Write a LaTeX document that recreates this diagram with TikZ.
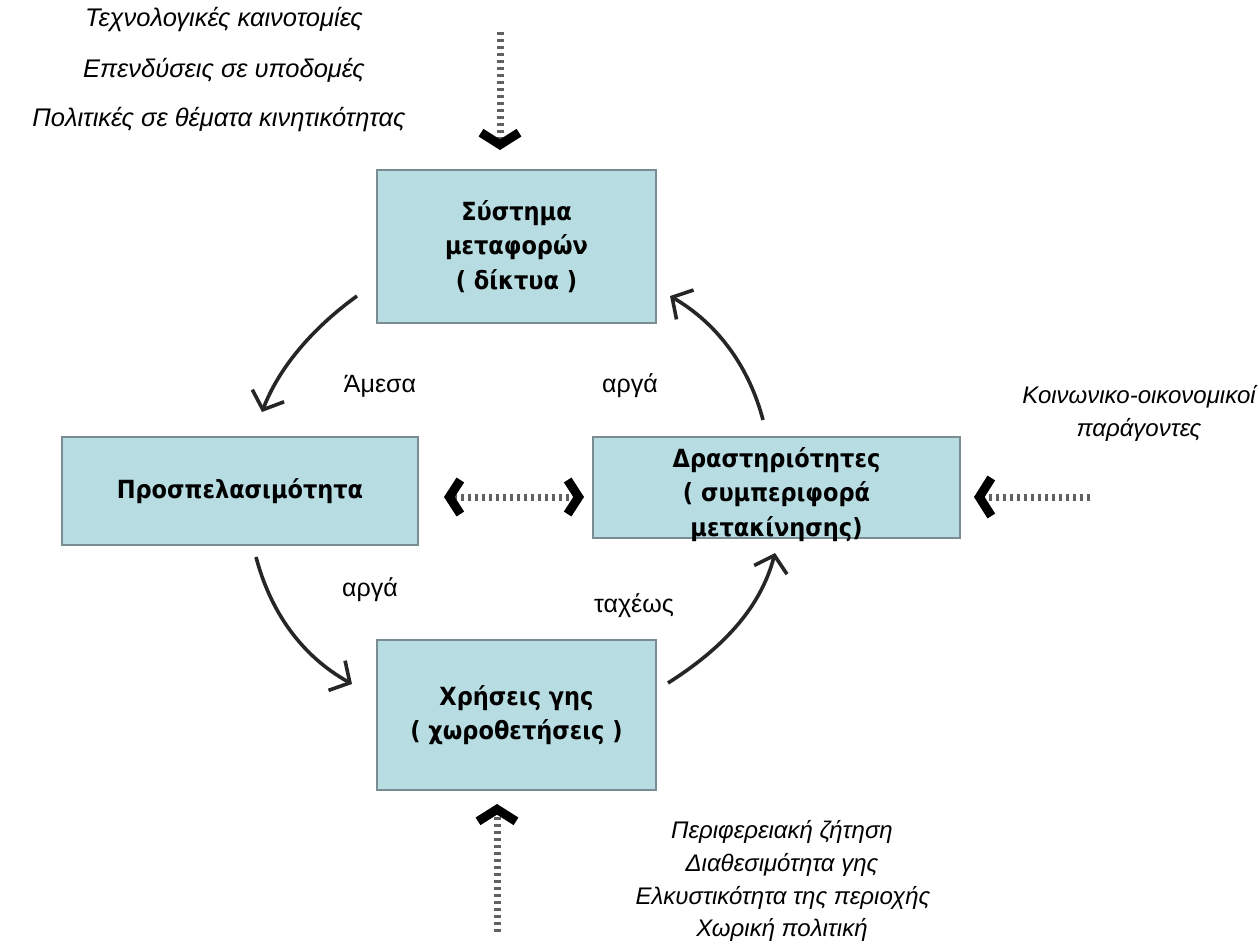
\documentclass[tikz,border=0pt]{standalone}
\usepackage{fontspec}
\setmainfont{Liberation Sans}
\newfontfamily\boxfont{DejaVu Sans Condensed}
\usetikzlibrary{arrows.meta}
\definecolor{boxfill}{RGB}{183,221,226}
\definecolor{boxedge}{RGB}{120,140,145}
\tikzset{
  stbox/.style={draw=boxedge, line width=1.2pt, fill=boxfill, align=center, inner sep=0pt, font=\boxfont\bfseries\fontsize{25}{34.5}\selectfont},
  boxtext/.style={align=center, inner sep=0pt, font=\boxfont\bfseries\fontsize{25}{34.5}\selectfont},
  lbl/.style={font=\fontsize{25}{28}\selectfont, inner sep=0pt},
  itl/.style={font=\itshape\fontsize{24}{33}\selectfont, inner sep=0pt, align=center},
  itt/.style={font=\itshape\fontsize{25.5}{30}\selectfont, inner sep=0pt, align=center},
  curv/.style={line width=3.6pt, black!85, -{Straight Barb[length=15pt,width=34pt,line width=3.6pt]}},
  dotarr/.style={line width=7pt, black!62, dash pattern=on 3pt off 4pt, -{Straight Barb[length=12pt,width=38pt,line width=9pt,color=black]}},
  dotdbl/.style={line width=7pt, black!62, dash pattern=on 3pt off 4pt, {Straight Barb[length=11pt,width=34pt,line width=9pt,color=black]}-{Straight Barb[length=11pt,width=34pt,line width=9pt,color=black]}}
}
\begin{document}
\begin{tikzpicture}[x=1pt,y=-1pt]
\useasboundingbox (0,0) rectangle (1259,943);
% boxes
\node[stbox, minimum width=279pt, minimum height=153pt] (sys) at (516.5,246.5) {Σύστημα\\μεταφορών\\( δίκτυα )};
\node[stbox, minimum width=356pt, minimum height=108pt] (acc) at (240,491) {Προσπελασιμότητα};
\node[stbox, minimum width=367pt, minimum height=101pt,
  label={[boxtext, yshift=-7pt]center:Δραστηριότητες\\( συμπεριφορά\\μετακίνησης)}] (act) at (776.5,487.5) {};
\node[stbox, minimum width=279pt, minimum height=150pt] (land) at (516.5,715) {Χρήσεις γης\\( χωροθετήσεις )};
% top-left text
\node[itt] (t1) at (224,20) {Τεχνολογικές καινοτομίες};
\node[itt] (t2) at (224,70) {Επενδύσεις σε υποδομές};
\node[itt] (t3) at (219,120) {Πολιτικές σε θέματα κινητικότητας};
% right text
\node[itl] (soc) at (1139,413) {Κοινωνικο-οικονομικοί\\παράγοντες};
% bottom-right text
\node[itl] (b1) at (782,832) {Περιφερειακή ζήτηση};
\node[itl] (b2) at (782,865) {Διαθεσιμότητα γης};
\node[itl] (b3) at (783,898) {Ελκυστικότητα της περιοχής};
\node[itl] (b4) at (782,930) {Χωρική πολιτική};
% labels
\node[lbl] (l1) at (380,386) {Άμεσα};
\node[lbl] (l2) at (630,386) {αργά};
\node[lbl] (l3) at (370,590) {αργά};
\node[lbl] (l4) at (634,606) {ταχέως};
% coordinates for arrows
\coordinate (a1s) at (357,296);
\coordinate (a1e) at (262,412);
\coordinate (a2s) at (256,557);
\coordinate (a2e) at (352,684);
\coordinate (a3s) at (668,683);
\coordinate (a3e) at (775,553);
\coordinate (a4s) at (763,420);
\coordinate (a4e) at (670,296);
\draw[curv] (a1s) .. controls (310,330) and (278,370) .. (a1e);
\draw[curv] (a2s) .. controls (270,610) and (300,655) .. (a2e);
\draw[curv] (a3s) .. controls (720,650) and (760,610) .. (a3e);
\draw[curv] (a4s) .. controls (750,370) and (720,325) .. (a4e);
% dotted arrows
\coordinate (d1s) at (500,32);
\coordinate (d1e) at (500,150);
\draw[dotarr] (d1s) -- (d1e);
\coordinate (d2s) at (497,932);
\coordinate (d2e) at (497,804);
\draw[dotarr] (d2s) -- (d2e);
\coordinate (d3s) at (1090,497);
\coordinate (d3e) at (974,497);
\draw[dotarr] (d3s) -- (d3e);
\coordinate (d4s) at (444,497);
\coordinate (d4e) at (584,497);
\draw[dotdbl] (d4s) -- (d4e);
\end{tikzpicture}
\end{document}
